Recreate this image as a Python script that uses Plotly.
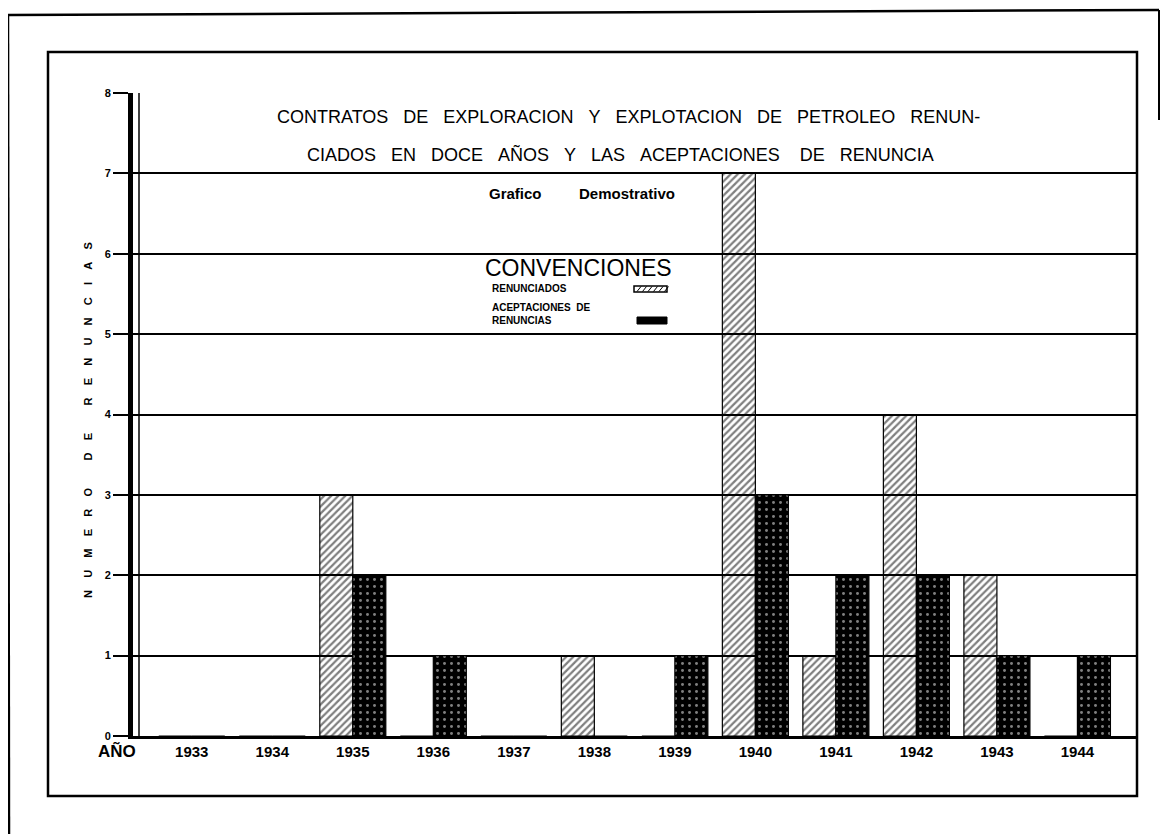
import plotly.graph_objects as go

# ---- data ----
years = ["1933", "1934", "1935", "1936", "1937", "1938",
         "1939", "1940", "1941", "1942", "1943", "1944"]
renunciados = [0, 0, 3, 0, 0, 1, 0, 7, 1, 4, 2, 0]
aceptaciones = [0, 0, 2, 1, 0, 0, 1, 3, 2, 2, 1, 1]
y_ticks = [0, 1, 2, 3, 4, 5, 6, 7, 8]

S2 = "\u00a0" * 3
title_line1 = S2.join(["CONTRATOS", "DE", "EXPLORACION", "Y", "EXPLOTACION", "DE", "PETROLEO", "RENUN-"])
title_line2 = S2.join(["CIADOS", "EN", "DOCE", "AÑOS", "Y", "LAS", "ACEPTACIONES", "\u00a0DE", "RENUNCIA"])
subtitle = "Grafico" + "\u00a0" * 9 + "Demostrativo"
ytitle_words = ["NUMERO", "DE", "RENUNCIAS"]

# ---- geometry (reference page pixels); page body has an 8px margin ----
OFF = 8
W, H = 1168 - OFF, 834 - OFF
L, R, T, B = 133, 1137, 93, 736


def px(x):
    return (x - L) / (R - L)


def py(y):
    return (B - y) / (B - T)


FONT = "Liberation Sans"

fig = go.Figure()
fig.add_trace(go.Bar(
    x=years, y=renunciados, name="RENUNCIADOS",
    marker=dict(color="rgba(255,255,255,0)",
                line=dict(color="black", width=1.2),
                pattern=dict(shape="/", fgcolor="black", bgcolor="rgba(255,255,255,0)",
                             size=5, solidity=0.45, fillmode="overlay")),
))
fig.add_trace(go.Bar(
    x=years, y=aceptaciones, name="ACEPTACIONES DE RENUNCIAS",
    marker=dict(color="black",
                line=dict(color="black", width=1.2),
                pattern=dict(shape=".", fgcolor="white", bgcolor="black",
                             size=7, solidity=0.14, fillmode="overlay")),
))

sp_in = "\u00a0" * 4
sp_word = "\u00a0" * 9
ytitle = sp_word.join(sp_in.join(list(w)) for w in ytitle_words)

annotations = [
    dict(text=title_line1, x=px(628), y=py(117), font=dict(size=18, color="black", family=FONT)),
    dict(text=title_line2, x=px(620), y=py(154), font=dict(size=18, color="black", family=FONT)),
    dict(text="<b>" + subtitle + "</b>", x=px(582), y=py(193), font=dict(size=15, color="black", family=FONT)),
    dict(text="CONVENCIONES", x=px(578), y=py(268), font=dict(size=23, color="black", family=FONT)),
    dict(text="<b>RENUNCIADOS</b>", x=px(490), y=py(288), xanchor="left",
         font=dict(size=10, color="black", family=FONT)),
    dict(text="<b>ACEPTACIONES\u00a0\u00a0DE</b><br><b>RENUNCIAS</b>", x=px(490), y=py(314), xanchor="left",
         align="left", font=dict(size=10, color="black", family=FONT)),
    dict(text="<b>" + ytitle + "</b>", x=px(88), y=py(420), textangle=-90,
         font=dict(size=11, color="black", family=FONT)),
    dict(text="<b>AÑO</b>", x=px(117), y=py(751), font=dict(size=17, color="black", family=FONT)),
]
for a in annotations:
    a.update(xref="paper", yref="paper", showarrow=False)
    a.setdefault("xanchor", "center")
    a.setdefault("yanchor", "middle")

shapes = [
    # inner frame
    dict(type="rect", xref="paper", yref="paper", x0=px(48), x1=px(1137), y0=py(796), y1=py(52),
         line=dict(color="black", width=2.5)),
    # outer frame (top, left, partial right)
    dict(type="line", xref="paper", yref="paper", x0=px(8), x1=px(1159), y0=py(15), y1=py(10),
         line=dict(color="black", width=2.5)),
    dict(type="line", xref="paper", yref="paper", x0=px(8), x1=px(9), y0=py(15), y1=py(834),
         line=dict(color="black", width=2.5)),
    dict(type="line", xref="paper", yref="paper", x0=px(1159), x1=px(1159), y0=py(10), y1=py(120),
         line=dict(color="black", width=2)),
    # second thin y-axis line
    dict(type="line", xref="paper", yref="paper", x0=px(139), x1=px(139), y0=0, y1=1,
         line=dict(color="black", width=1.5)),
    # legend swatches
    dict(type="rect", xref="paper", yref="paper", x0=px(634), x1=px(667), y0=py(292), y1=py(286),
         line=dict(color="black", width=1.5), fillcolor="white"),
    dict(type="rect", xref="paper", yref="paper", x0=px(637), x1=px(667), y0=py(324), y1=py(317),
         line=dict(color="black", width=1), fillcolor="black"),
]
for k in range(6):
    x0 = 637 + k * 5.5
    shapes.append(dict(type="line", xref="paper", yref="paper", x0=px(x0), x1=px(x0 + 4),
                       y0=py(291.5), y1=py(286.5), line=dict(color="black", width=1)))

fig.update_layout(
    width=W, height=H,
    margin=dict(l=L - OFF, r=1168 - R, t=T - OFF, b=834 - B),
    paper_bgcolor="white", plot_bgcolor="white",
    barmode="group", bargap=0.18, bargroupgap=0,
    showlegend=False,
    font=dict(family=FONT, color="black"),
    annotations=annotations,
    shapes=shapes,
)
fig.update_xaxes(
    type="category", range=[-0.73, 11.74],
    showgrid=False, showline=True, linecolor="black", linewidth=3,
    ticks="", tickfont=dict(size=15, family=FONT, color="black", weight="bold"),
)
fig.update_yaxes(
    range=[0, 8], tickvals=y_ticks, ticktext=[str(v) for v in y_ticks],
    showgrid=True, gridcolor="black", gridwidth=1.5,
    showline=True, linecolor="black", linewidth=5,
    ticks="outside", ticklen=15, tickwidth=1.5, tickcolor="black",
    tickfont=dict(size=11, family=FONT, color="black", weight="bold"),
    zeroline=False,
)

fig.write_html("out.html")
